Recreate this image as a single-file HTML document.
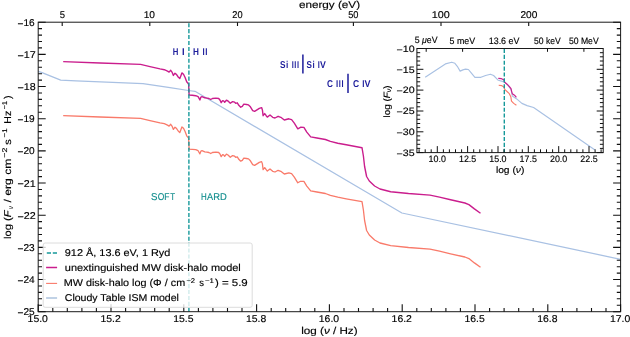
<!DOCTYPE html><html><head><meta charset="utf-8"><style>html,body{margin:0;padding:0;background:#fff;width:630px;height:337px;overflow:hidden;font-family:"Liberation Sans",sans-serif;}svg{display:block;will-change:transform;text-rendering:geometricPrecision;}</style></head><body>
<svg width="630" height="337" viewBox="0 0 630 337" font-family="'Liberation Sans', sans-serif">
<rect width="630" height="337" fill="#fff"/>
<defs><clipPath id="cm"><rect x="38.2" y="22.2" width="582.4" height="289.5"/></clipPath><clipPath id="ci"><rect x="416.9" y="48.5" width="186.3" height="104.1"/></clipPath></defs>
<g clip-path="url(#cm)" fill="none" stroke-linejoin="round" stroke-linecap="butt">
<polyline points="38.2,71.3 41.4,72.3 60.7,80.2 76.0,80.8 143.0,83.7 170.0,87.7 188.4,90.5 195.0,91.3 401.9,213.0 620.6,259.3" stroke="#a9c1e3" stroke-width="1.25"/>
<polyline points="63.2,115.6 100.0,117.0 140.6,118.4 150.0,120.6 160.0,122.9 164.3,123.7 167.5,125.1 169.1,126.1 170.7,124.3 172.0,126.1 173.4,129.4 175.0,127.2 176.6,128.6 178.2,131.0 179.8,132.6 180.8,129.9 181.9,126.9 183.5,128.3 185.1,131.5 186.7,135.8 188.0,137.4 188.6,137.9 189.1,149.1 192.2,149.3 195.7,149.7 198.1,150.7 199.9,153.9 200.9,151.1 202.0,150.7 204.8,151.8 206.9,152.1 208.9,152.5 210.7,153.5 212.4,152.5 215.9,152.1 218.7,152.5 220.1,154.2 221.2,156.7 222.6,154.6 223.6,154.9 224.7,156.3 226.4,154.2 228.0,155.0 230.3,157.3 232.6,155.6 234.6,156.2 235.7,157.3 237.3,156.8 238.8,159.3 240.7,161.2 242.3,160.4 243.8,158.1 246.5,158.5 248.5,158.9 250.4,160.8 252.7,164.7 254.6,165.4 257.0,163.9 259.3,162.4 261.6,161.6 262.4,163.9 263.1,169.7 264.7,167.6 266.2,169.7 267.3,171.1 270.0,169.0 272.7,171.3 275.0,172.0 278.1,170.3 280.8,171.3 284.3,174.0 288.9,172.8 291.6,173.6 294.3,177.1 297.8,182.8 300.5,181.3 303.9,181.4 306.8,186.1 310.7,190.9 316.9,192.0 325.4,193.5 330.4,195.4 337.8,197.2 346.2,198.8 362.0,201.7 363.4,210.0 364.6,220.5 366.6,230.5 369.3,235.0 374.6,240.0 380.0,243.0 390.7,245.7 408.5,247.5 430.0,249.1 439.5,251.1 450.6,253.8 464.9,257.0 468.9,258.6 474.4,262.9 480.5,267.3" stroke="#f97a6a" stroke-width="1.3"/>
<polyline points="63.2,61.6 100.0,63.0 140.6,64.4 150.0,66.6 160.0,68.9 164.3,69.7 167.5,71.1 169.1,72.1 170.7,70.3 172.0,72.1 173.4,75.4 175.0,73.2 176.6,74.6 178.2,77.0 179.8,78.6 180.8,75.9 181.9,72.9 183.5,74.3 185.1,77.5 186.7,81.8 188.0,83.4 188.6,83.9 189.1,95.1 192.2,95.3 195.7,95.7 198.1,96.7 199.9,99.9 200.9,97.1 202.0,96.7 204.8,97.8 206.9,98.1 208.9,98.5 210.7,99.5 212.4,98.5 215.9,98.1 218.7,98.5 220.1,100.2 221.2,102.7 222.6,100.6 223.6,100.9 224.7,102.3 226.4,100.2 228.0,101.0 230.3,103.3 232.6,101.6 234.6,102.2 235.7,103.3 237.3,102.8 238.8,105.3 240.7,107.2 242.3,106.4 243.8,104.1 246.5,104.5 248.5,104.9 250.4,106.8 252.7,110.7 254.6,111.4 257.0,109.9 259.3,108.4 261.6,107.6 262.4,109.9 263.1,115.7 264.7,113.6 266.2,115.7 267.3,117.1 270.0,115.0 272.7,117.3 275.0,118.0 278.1,116.3 280.8,117.3 284.3,120.0 288.9,118.8 291.6,119.6 294.3,123.1 297.8,128.8 300.5,127.3 303.9,127.4 306.8,132.1 310.7,136.9 316.9,138.0 325.4,139.5 330.4,141.4 337.8,143.2 346.2,144.8 362.0,147.7 363.4,156.0 364.6,166.5 366.6,176.5 369.3,181.0 374.6,186.0 380.0,189.0 390.7,191.7 408.5,193.5 430.0,195.1 439.5,197.1 450.6,199.8 464.9,203.0 468.9,204.6 474.4,208.9 480.5,213.3" stroke="#ca1d8d" stroke-width="1.4"/>
<line x1="188.9" y1="311.9" x2="188.9" y2="22.7" stroke="#16999a" stroke-width="1.4" stroke-dasharray="4.1,1.83"/>
</g>
<line x1="302.9" y1="54.4" x2="302.9" y2="73.5" stroke="#1d1d9b" stroke-width="1.5"/>
<line x1="348.0" y1="73.8" x2="348.0" y2="92.9" stroke="#1d1d9b" stroke-width="1.5"/>
<rect x="38.2" y="22.2" width="582.4" height="289.5" fill="none" stroke="#1a1a1a" stroke-width="1.0"/>
<path d="M38.2 311.7V304.2M52.8 311.7V307.9M67.3 311.7V307.9M81.9 311.7V307.9M96.4 311.7V307.9M111.0 311.7V304.2M125.6 311.7V307.9M140.1 311.7V307.9M154.7 311.7V307.9M169.2 311.7V307.9M183.8 311.7V304.2M198.4 311.7V307.9M212.9 311.7V307.9M227.5 311.7V307.9M242.0 311.7V307.9M256.6 311.7V304.2M271.2 311.7V307.9M285.7 311.7V307.9M300.3 311.7V307.9M314.8 311.7V307.9M329.4 311.7V304.2M344.0 311.7V307.9M358.5 311.7V307.9M373.1 311.7V307.9M387.6 311.7V307.9M402.2 311.7V304.2M416.8 311.7V307.9M431.3 311.7V307.9M445.9 311.7V307.9M460.4 311.7V307.9M475.0 311.7V304.2M489.6 311.7V307.9M504.1 311.7V307.9M518.7 311.7V307.9M533.2 311.7V307.9M547.8 311.7V304.2M562.4 311.7V307.9M576.9 311.7V307.9M591.5 311.7V307.9M606.0 311.7V307.9M620.6 311.7V304.2M38.2 22.2H45.7M620.6 22.2H613.1M38.2 28.6H42.0M620.6 28.6H616.8M38.2 35.1H42.0M620.6 35.1H616.8M38.2 41.5H42.0M620.6 41.5H616.8M38.2 47.9H42.0M620.6 47.9H616.8M38.2 54.4H45.7M620.6 54.4H613.1M38.2 60.8H42.0M620.6 60.8H616.8M38.2 67.2H42.0M620.6 67.2H616.8M38.2 73.7H42.0M620.6 73.7H616.8M38.2 80.1H42.0M620.6 80.1H616.8M38.2 86.5H45.7M620.6 86.5H613.1M38.2 93.0H42.0M620.6 93.0H616.8M38.2 99.4H42.0M620.6 99.4H616.8M38.2 105.8H42.0M620.6 105.8H616.8M38.2 112.3H42.0M620.6 112.3H616.8M38.2 118.7H45.7M620.6 118.7H613.1M38.2 125.1H42.0M620.6 125.1H616.8M38.2 131.6H42.0M620.6 131.6H616.8M38.2 138.0H42.0M620.6 138.0H616.8M38.2 144.4H42.0M620.6 144.4H616.8M38.2 150.9H45.7M620.6 150.9H613.1M38.2 157.3H42.0M620.6 157.3H616.8M38.2 163.7H42.0M620.6 163.7H616.8M38.2 170.2H42.0M620.6 170.2H616.8M38.2 176.6H42.0M620.6 176.6H616.8M38.2 183.0H45.7M620.6 183.0H613.1M38.2 189.5H42.0M620.6 189.5H616.8M38.2 195.9H42.0M620.6 195.9H616.8M38.2 202.3H42.0M620.6 202.3H616.8M38.2 208.8H42.0M620.6 208.8H616.8M38.2 215.2H45.7M620.6 215.2H613.1M38.2 221.6H42.0M620.6 221.6H616.8M38.2 228.1H42.0M620.6 228.1H616.8M38.2 234.5H42.0M620.6 234.5H616.8M38.2 240.9H42.0M620.6 240.9H616.8M38.2 247.4H45.7M620.6 247.4H613.1M38.2 253.8H42.0M620.6 253.8H616.8M38.2 260.2H42.0M620.6 260.2H616.8M38.2 266.7H42.0M620.6 266.7H616.8M38.2 273.1H42.0M620.6 273.1H616.8M38.2 279.5H45.7M620.6 279.5H613.1M38.2 286.0H42.0M620.6 286.0H616.8M38.2 292.4H42.0M620.6 292.4H616.8M38.2 298.8H42.0M620.6 298.8H616.8M38.2 305.3H42.0M620.6 305.3H616.8M38.2 311.7H45.7M620.6 311.7H613.1M62.2 22.2V26.0M149.8 22.2V26.0M237.5 22.2V26.0M353.4 22.2V26.0M441.0 22.2V26.0M528.7 22.2V26.0" stroke="#111" stroke-width="1.1" fill="none"/>
<text x="172.80" y="55.00" font-size="9.90" font-weight="bold" fill="#1d1d9b" textLength="5.61" lengthAdjust="spacingAndGlyphs">H</text>
<text x="182.00" y="55.00" font-size="9.90" font-weight="bold" fill="#1d1d9b" textLength="2.61" lengthAdjust="spacingAndGlyphs">I</text>
<text x="192.90" y="55.00" font-size="9.90" font-weight="bold" fill="#1d1d9b" textLength="5.92" lengthAdjust="spacingAndGlyphs">H</text>
<text x="202.60" y="55.00" font-size="9.90" font-weight="bold" fill="#1d1d9b" textLength="2.20" lengthAdjust="spacingAndGlyphs">I</text>
<text x="205.30" y="55.00" font-size="9.90" font-weight="bold" fill="#1d1d9b" textLength="2.20" lengthAdjust="spacingAndGlyphs">I</text>
<text x="280.10" y="67.70" font-size="9.90" font-weight="bold" fill="#1d1d9b" textLength="5.49" lengthAdjust="spacingAndGlyphs">S</text>
<text x="286.10" y="67.70" font-size="9.90" font-weight="bold" fill="#1d1d9b" textLength="2.34" lengthAdjust="spacingAndGlyphs">i</text>
<text x="291.70" y="67.70" font-size="9.90" font-weight="bold" fill="#1d1d9b" textLength="2.06" lengthAdjust="spacingAndGlyphs">I</text>
<text x="294.30" y="67.70" font-size="9.90" font-weight="bold" fill="#1d1d9b" textLength="2.06" lengthAdjust="spacingAndGlyphs">I</text>
<text x="296.90" y="67.70" font-size="9.90" font-weight="bold" fill="#1d1d9b" textLength="2.06" lengthAdjust="spacingAndGlyphs">I</text>
<text x="306.40" y="67.70" font-size="9.90" font-weight="bold" fill="#1d1d9b" textLength="5.38" lengthAdjust="spacingAndGlyphs">S</text>
<text x="312.40" y="67.70" font-size="9.90" font-weight="bold" fill="#1d1d9b" textLength="2.20" lengthAdjust="spacingAndGlyphs">i</text>
<text x="317.80" y="67.70" font-size="9.90" font-weight="bold" fill="#1d1d9b" textLength="2.06" lengthAdjust="spacingAndGlyphs">I</text>
<text x="319.90" y="67.70" font-size="9.90" font-weight="bold" fill="#1d1d9b" textLength="5.84" lengthAdjust="spacingAndGlyphs">V</text>
<text x="326.90" y="86.90" font-size="9.90" font-weight="bold" fill="#1d1d9b" textLength="5.92" lengthAdjust="spacingAndGlyphs">C</text>
<text x="336.00" y="86.90" font-size="9.90" font-weight="bold" fill="#1d1d9b" textLength="2.20" lengthAdjust="spacingAndGlyphs">I</text>
<text x="338.70" y="86.90" font-size="9.90" font-weight="bold" fill="#1d1d9b" textLength="2.06" lengthAdjust="spacingAndGlyphs">I</text>
<text x="341.50" y="86.90" font-size="9.90" font-weight="bold" fill="#1d1d9b" textLength="2.06" lengthAdjust="spacingAndGlyphs">I</text>
<text x="353.00" y="86.90" font-size="9.90" font-weight="bold" fill="#1d1d9b" textLength="6.12" lengthAdjust="spacingAndGlyphs">C</text>
<text x="362.30" y="86.90" font-size="9.90" font-weight="bold" fill="#1d1d9b" textLength="2.20" lengthAdjust="spacingAndGlyphs">I</text>
<text x="364.40" y="86.90" font-size="9.90" font-weight="bold" fill="#1d1d9b" textLength="6.03" lengthAdjust="spacingAndGlyphs">V</text>
<text x="151.02" y="199.60" font-size="9.90" font-weight="normal" fill="#138e8e" stroke="#138e8e" stroke-width="0.15" textLength="6.46" lengthAdjust="spacingAndGlyphs">S</text>
<text x="157.80" y="199.60" font-size="9.90" font-weight="normal" fill="#138e8e" stroke="#138e8e" stroke-width="0.15" textLength="6.59" lengthAdjust="spacingAndGlyphs">O</text>
<text x="164.24" y="199.60" font-size="9.90" font-weight="normal" fill="#138e8e" stroke="#138e8e" stroke-width="0.15" textLength="5.20" lengthAdjust="spacingAndGlyphs">F</text>
<text x="170.20" y="199.60" font-size="9.90" font-weight="normal" fill="#138e8e" stroke="#138e8e" stroke-width="0.15" textLength="4.84" lengthAdjust="spacingAndGlyphs">T</text>
<text x="201.10" y="199.60" font-size="9.90" font-weight="normal" fill="#138e8e" stroke="#138e8e" stroke-width="0.15" textLength="5.71" lengthAdjust="spacingAndGlyphs">H</text>
<text x="207.10" y="199.60" font-size="9.90" font-weight="normal" fill="#138e8e" stroke="#138e8e" stroke-width="0.15" textLength="6.12" lengthAdjust="spacingAndGlyphs">A</text>
<text x="213.35" y="199.60" font-size="9.90" font-weight="normal" fill="#138e8e" stroke="#138e8e" stroke-width="0.15" textLength="6.78" lengthAdjust="spacingAndGlyphs">R</text>
<text x="220.05" y="199.60" font-size="9.90" font-weight="normal" fill="#138e8e" stroke="#138e8e" stroke-width="0.15" textLength="6.78" lengthAdjust="spacingAndGlyphs">D</text>
<text x="27.64" y="322.00" font-size="9.90" font-weight="normal" fill="#000" stroke="#000" stroke-width="0.15" textLength="20.30" lengthAdjust="spacingAndGlyphs">15.0</text>
<text x="100.44" y="322.00" font-size="9.90" font-weight="normal" fill="#000" stroke="#000" stroke-width="0.15" textLength="20.30" lengthAdjust="spacingAndGlyphs">15.2</text>
<text x="173.24" y="322.00" font-size="9.90" font-weight="normal" fill="#000" stroke="#000" stroke-width="0.15" textLength="20.30" lengthAdjust="spacingAndGlyphs">15.5</text>
<text x="246.04" y="322.00" font-size="9.90" font-weight="normal" fill="#000" stroke="#000" stroke-width="0.15" textLength="20.30" lengthAdjust="spacingAndGlyphs">15.8</text>
<text x="318.84" y="322.00" font-size="9.90" font-weight="normal" fill="#000" stroke="#000" stroke-width="0.15" textLength="20.30" lengthAdjust="spacingAndGlyphs">16.0</text>
<text x="391.64" y="322.00" font-size="9.90" font-weight="normal" fill="#000" stroke="#000" stroke-width="0.15" textLength="20.30" lengthAdjust="spacingAndGlyphs">16.2</text>
<text x="464.44" y="322.00" font-size="9.90" font-weight="normal" fill="#000" stroke="#000" stroke-width="0.15" textLength="20.30" lengthAdjust="spacingAndGlyphs">16.5</text>
<text x="537.24" y="322.00" font-size="9.90" font-weight="normal" fill="#000" stroke="#000" stroke-width="0.15" textLength="20.30" lengthAdjust="spacingAndGlyphs">16.8</text>
<text x="610.04" y="322.00" font-size="9.90" font-weight="normal" fill="#000" stroke="#000" stroke-width="0.15" textLength="20.30" lengthAdjust="spacingAndGlyphs">17.0</text>
<text x="17.50" y="25.75" font-size="9.90" font-weight="normal" fill="#000" stroke="#000" stroke-width="0.15" textLength="17.16" lengthAdjust="spacingAndGlyphs"><tspan dy="0.9">−</tspan><tspan dy="-0.9">16</tspan></text>
<text x="17.50" y="57.92" font-size="9.90" font-weight="normal" fill="#000" stroke="#000" stroke-width="0.15" textLength="18.23" lengthAdjust="spacingAndGlyphs"><tspan dy="0.9">−</tspan><tspan dy="-0.9">17</tspan></text>
<text x="17.50" y="90.08" font-size="9.90" font-weight="normal" fill="#000" stroke="#000" stroke-width="0.15" textLength="18.23" lengthAdjust="spacingAndGlyphs"><tspan dy="0.9">−</tspan><tspan dy="-0.9">18</tspan></text>
<text x="17.50" y="122.25" font-size="9.90" font-weight="normal" fill="#000" stroke="#000" stroke-width="0.15" textLength="17.16" lengthAdjust="spacingAndGlyphs"><tspan dy="0.9">−</tspan><tspan dy="-0.9">19</tspan></text>
<text x="17.50" y="154.42" font-size="9.90" font-weight="normal" fill="#000" stroke="#000" stroke-width="0.15" textLength="17.16" lengthAdjust="spacingAndGlyphs"><tspan dy="0.9">−</tspan><tspan dy="-0.9">20</tspan></text>
<text x="17.50" y="186.58" font-size="9.90" font-weight="normal" fill="#000" stroke="#000" stroke-width="0.15" textLength="18.23" lengthAdjust="spacingAndGlyphs"><tspan dy="0.9">−</tspan><tspan dy="-0.9">21</tspan></text>
<text x="17.50" y="218.75" font-size="9.90" font-weight="normal" fill="#000" stroke="#000" stroke-width="0.15" textLength="18.23" lengthAdjust="spacingAndGlyphs"><tspan dy="0.9">−</tspan><tspan dy="-0.9">22</tspan></text>
<text x="17.50" y="250.92" font-size="9.90" font-weight="normal" fill="#000" stroke="#000" stroke-width="0.15" textLength="17.16" lengthAdjust="spacingAndGlyphs"><tspan dy="0.9">−</tspan><tspan dy="-0.9">23</tspan></text>
<text x="17.50" y="283.08" font-size="9.90" font-weight="normal" fill="#000" stroke="#000" stroke-width="0.15" textLength="17.16" lengthAdjust="spacingAndGlyphs"><tspan dy="0.9">−</tspan><tspan dy="-0.9">24</tspan></text>
<text x="17.50" y="315.25" font-size="9.90" font-weight="normal" fill="#000" stroke="#000" stroke-width="0.15" textLength="17.16" lengthAdjust="spacingAndGlyphs"><tspan dy="0.9">−</tspan><tspan dy="-0.9">25</tspan></text>
<text x="59.77" y="17.80" font-size="9.90" font-weight="normal" fill="#000" stroke="#000" stroke-width="0.15" textLength="5.28" lengthAdjust="spacingAndGlyphs">5</text>
<text x="143.65" y="17.80" font-size="9.90" font-weight="normal" fill="#000" stroke="#000" stroke-width="0.15" textLength="11.31" lengthAdjust="spacingAndGlyphs">10</text>
<text x="232.34" y="17.80" font-size="9.90" font-weight="normal" fill="#000" stroke="#000" stroke-width="0.15" textLength="10.29" lengthAdjust="spacingAndGlyphs">20</text>
<text x="348.22" y="17.80" font-size="9.90" font-weight="normal" fill="#000" stroke="#000" stroke-width="0.15" textLength="10.29" lengthAdjust="spacingAndGlyphs">50</text>
<text x="431.74" y="17.80" font-size="9.90" font-weight="normal" fill="#000" stroke="#000" stroke-width="0.15" textLength="18.02" lengthAdjust="spacingAndGlyphs">100</text>
<text x="520.49" y="17.80" font-size="9.90" font-weight="normal" fill="#000" stroke="#000" stroke-width="0.15" textLength="16.90" lengthAdjust="spacingAndGlyphs">200</text>
<text x="298.90" y="7.80" font-size="9.90" font-weight="normal" fill="#000" stroke="#000" stroke-width="0.15" textLength="61.20" lengthAdjust="spacingAndGlyphs">energy (eV)</text>
<text x="301.20" y="334.10" font-size="9.90" font-weight="normal" fill="#000" stroke="#000" stroke-width="0.15" textLength="56.39" lengthAdjust="spacingAndGlyphs">log (<tspan font-style="italic">ν</tspan> / Hz)</text>
<text transform="translate(11.10,238.90) rotate(-90)" x="0.00" y="0" font-size="9.90" font-weight="normal" fill="#000" stroke="#000" stroke-width="0.15" textLength="28.47" lengthAdjust="spacingAndGlyphs">log (<tspan font-style="italic">F</tspan></text>
<text transform="translate(12.60,208.90) rotate(-90)" x="0.00" y="0" font-size="6.90" font-weight="normal" fill="#000" stroke="#000" stroke-width="0.15" textLength="2.59" lengthAdjust="spacingAndGlyphs"><tspan font-style="italic">ν</tspan></text>
<text transform="translate(11.10,202.40) rotate(-90)" x="0.00" y="0" font-size="9.90" font-weight="normal" fill="#000" stroke="#000" stroke-width="0.15" textLength="43.72" lengthAdjust="spacingAndGlyphs">/ erg cm</text>
<text transform="translate(7.00,157.70) rotate(-90)" x="0.00" y="0" font-size="6.90" font-weight="normal" fill="#000" stroke="#000" stroke-width="0.15" textLength="10.02" lengthAdjust="spacingAndGlyphs">−2</text>
<text transform="translate(11.10,144.70) rotate(-90)" x="0.00" y="0" font-size="9.90" font-weight="normal" fill="#000" stroke="#000" stroke-width="0.15" textLength="5.53" lengthAdjust="spacingAndGlyphs">s</text>
<text transform="translate(7.00,137.40) rotate(-90)" x="0.00" y="0" font-size="6.90" font-weight="normal" fill="#000" stroke="#000" stroke-width="0.15" textLength="8.84" lengthAdjust="spacingAndGlyphs">−1</text>
<text transform="translate(11.10,122.70) rotate(-90)" x="-1.07" y="0" font-size="9.90" font-weight="normal" fill="#000" stroke="#000" stroke-width="0.15" textLength="12.96" lengthAdjust="spacingAndGlyphs">Hz</text>
<text transform="translate(7.00,109.20) rotate(-90)" x="0.00" y="0" font-size="6.90" font-weight="normal" fill="#000" stroke="#000" stroke-width="0.15" textLength="8.25" lengthAdjust="spacingAndGlyphs">−1</text>
<text transform="translate(11.10,99.10) rotate(-90)" x="0.00" y="0" font-size="9.90" font-weight="normal" fill="#000" stroke="#000" stroke-width="0.15" textLength="3.74" lengthAdjust="spacingAndGlyphs">)</text>
<rect x="43.2" y="243.0" width="209" height="64.3" rx="2" ry="2" fill="#fff" fill-opacity="0.8" stroke="#d8d8d8" stroke-width="0.9"/>
<line x1="46.8" y1="253.0" x2="57.1" y2="253.0" stroke="#16999a" stroke-width="1.4" stroke-dasharray="4.2,1.8"/>
<line x1="46.1" y1="267.5" x2="57.1" y2="267.5" stroke="#ca1d8d" stroke-width="1.5"/>
<line x1="46.1" y1="283.4" x2="57.1" y2="283.4" stroke="#f97a6a" stroke-width="1.1"/>
<line x1="46.1" y1="298.0" x2="57.1" y2="298.0" stroke="#b6cae2" stroke-width="1.7"/>
<text x="64.80" y="255.90" font-size="9.90" font-weight="normal" fill="#000" stroke="#000" stroke-width="0.15" textLength="105.59" lengthAdjust="spacingAndGlyphs">912 Å, 13.6 eV, 1 Ryd</text>
<text x="64.80" y="270.60" font-size="9.90" font-weight="normal" fill="#000" stroke="#000" stroke-width="0.15" textLength="176.01" lengthAdjust="spacingAndGlyphs">unextinguished MW disk-halo model</text>
<text x="63.71" y="286.30" font-size="9.90" font-weight="normal" fill="#000" stroke="#000" stroke-width="0.15" textLength="121.44" lengthAdjust="spacingAndGlyphs">MW disk-halo log (Φ / cm</text>
<text x="186.40" y="283.10" font-size="6.90" font-weight="normal" fill="#000" stroke="#000" stroke-width="0.15" textLength="8.74" lengthAdjust="spacingAndGlyphs">−2</text>
<text x="199.30" y="286.30" font-size="9.90" font-weight="normal" fill="#000" stroke="#000" stroke-width="0.15" textLength="4.74" lengthAdjust="spacingAndGlyphs">s</text>
<text x="205.00" y="283.10" font-size="6.90" font-weight="normal" fill="#000" stroke="#000" stroke-width="0.15" textLength="8.84" lengthAdjust="spacingAndGlyphs">−1</text>
<text x="214.90" y="286.30" font-size="9.90" font-weight="normal" fill="#000" stroke="#000" stroke-width="0.15" textLength="32.83" lengthAdjust="spacingAndGlyphs">) = 5.9</text>
<text x="64.80" y="300.90" font-size="9.90" font-weight="normal" fill="#000" stroke="#000" stroke-width="0.15" textLength="114.15" lengthAdjust="spacingAndGlyphs">Cloudy Table ISM model</text>
<rect x="416.9" y="48.5" width="186.3" height="104.1" fill="#fff"/>
<g clip-path="url(#ci)" fill="none" stroke-linejoin="round">
<polyline points="425.2,77.3 445.4,63.9 451.7,62.2 454.9,63.3 457.3,66.3 460.1,71.1 462.9,69.9 465.6,69.1 468.4,69.5 471.0,72.7 474.9,77.3 480.9,77.3 485.6,75.5 490.4,74.2 493.6,75.5 498.3,80.3 501.5,81.1 504.7,82.1 507.9,85.4 511.0,89.4 512.3,96.0 516.7,98.9 521.9,103.4 527.1,105.6 533.6,107.5 595.0,150.0" stroke="#a9c1e3" stroke-width="1.15"/>
<polyline points="498.7,85.3 501.5,85.6 503.9,87.0 504.7,89.4 507.0,91.5 509.3,93.7 510.8,96.7 511.5,101.2 513.7,103.4 516.4,105.3" stroke="#f97a6a" stroke-width="1.15"/>
<polyline points="498.3,78.3 501.5,78.7 503.9,79.9 504.7,82.3 507.1,84.2 509.4,86.6 511.0,88.6 511.5,90.8 512.3,93.7 514.5,95.2 516.4,97.4" stroke="#ca1d8d" stroke-width="1.2"/>
<line x1="504.3" y1="152.8" x2="504.3" y2="49.0" stroke="#16999a" stroke-width="1.4" stroke-dasharray="4.1,1.765"/>
</g>
<rect x="416.9" y="48.5" width="186.3" height="104.1" fill="none" stroke="#1a1a1a" stroke-width="1.0"/>
<path d="M419.1 152.6V149.3M425.2 152.6V149.3M431.2 152.6V149.3M437.3 152.6V146.1M443.4 152.6V149.3M449.4 152.6V149.3M455.5 152.6V149.3M461.6 152.6V149.3M467.6 152.6V146.1M473.7 152.6V149.3M479.8 152.6V149.3M485.8 152.6V149.3M491.9 152.6V149.3M498.0 152.6V146.1M504.0 152.6V149.3M510.1 152.6V149.3M516.2 152.6V149.3M522.3 152.6V149.3M528.3 152.6V146.1M534.4 152.6V149.3M540.5 152.6V149.3M546.5 152.6V149.3M552.6 152.6V149.3M558.7 152.6V146.1M564.7 152.6V149.3M570.8 152.6V149.3M576.9 152.6V149.3M582.9 152.6V149.3M589.0 152.6V146.1M595.1 152.6V149.3M601.1 152.6V149.3M416.9 48.5H423.4M603.2 48.5H596.7M416.9 52.7H420.2M603.2 52.7H599.9M416.9 56.8H420.2M603.2 56.8H599.9M416.9 61.0H420.2M603.2 61.0H599.9M416.9 65.2H420.2M603.2 65.2H599.9M416.9 69.3H423.4M603.2 69.3H596.7M416.9 73.5H420.2M603.2 73.5H599.9M416.9 77.6H420.2M603.2 77.6H599.9M416.9 81.8H420.2M603.2 81.8H599.9M416.9 86.0H420.2M603.2 86.0H599.9M416.9 90.1H423.4M603.2 90.1H596.7M416.9 94.3H420.2M603.2 94.3H599.9M416.9 98.5H420.2M603.2 98.5H599.9M416.9 102.6H420.2M603.2 102.6H599.9M416.9 106.8H420.2M603.2 106.8H599.9M416.9 111.0H423.4M603.2 111.0H596.7M416.9 115.1H420.2M603.2 115.1H599.9M416.9 119.3H420.2M603.2 119.3H599.9M416.9 123.5H420.2M603.2 123.5H599.9M416.9 127.6H420.2M603.2 127.6H599.9M416.9 131.8H423.4M603.2 131.8H596.7M416.9 135.9H420.2M603.2 135.9H599.9M416.9 140.1H420.2M603.2 140.1H599.9M416.9 144.3H420.2M603.2 144.3H599.9M416.9 148.4H420.2M603.2 148.4H599.9M416.9 152.6H423.4M603.2 152.6H596.7M426.2 48.5V51.8M462.6 48.5V51.8M547.5 48.5V51.8M583.9 48.5V51.8" stroke="#111" stroke-width="1.0" fill="none"/>
<text x="428.60" y="162.00" font-size="9.20" font-weight="normal" fill="#000" stroke="#000" stroke-width="0.15" textLength="17.29" lengthAdjust="spacingAndGlyphs">10.0</text>
<text x="458.94" y="162.00" font-size="9.20" font-weight="normal" fill="#000" stroke="#000" stroke-width="0.15" textLength="17.29" lengthAdjust="spacingAndGlyphs">12.5</text>
<text x="489.28" y="162.00" font-size="9.20" font-weight="normal" fill="#000" stroke="#000" stroke-width="0.15" textLength="17.29" lengthAdjust="spacingAndGlyphs">15.0</text>
<text x="519.62" y="162.00" font-size="9.20" font-weight="normal" fill="#000" stroke="#000" stroke-width="0.15" textLength="17.29" lengthAdjust="spacingAndGlyphs">17.5</text>
<text x="549.96" y="162.00" font-size="9.20" font-weight="normal" fill="#000" stroke="#000" stroke-width="0.15" textLength="17.29" lengthAdjust="spacingAndGlyphs">20.0</text>
<text x="580.30" y="162.00" font-size="9.20" font-weight="normal" fill="#000" stroke="#000" stroke-width="0.15" textLength="17.29" lengthAdjust="spacingAndGlyphs">22.5</text>
<text x="396.64" y="51.70" font-size="9.20" font-weight="normal" fill="#000" stroke="#000" stroke-width="0.15" textLength="18.06" lengthAdjust="spacingAndGlyphs"><tspan dy="0.8">−</tspan><tspan dy="-0.8">10</tspan></text>
<text x="396.64" y="72.52" font-size="9.20" font-weight="normal" fill="#000" stroke="#000" stroke-width="0.15" textLength="18.06" lengthAdjust="spacingAndGlyphs"><tspan dy="0.8">−</tspan><tspan dy="-0.8">15</tspan></text>
<text x="396.64" y="93.34" font-size="9.20" font-weight="normal" fill="#000" stroke="#000" stroke-width="0.15" textLength="18.06" lengthAdjust="spacingAndGlyphs"><tspan dy="0.8">−</tspan><tspan dy="-0.8">20</tspan></text>
<text x="396.64" y="114.16" font-size="9.20" font-weight="normal" fill="#000" stroke="#000" stroke-width="0.15" textLength="18.06" lengthAdjust="spacingAndGlyphs"><tspan dy="0.8">−</tspan><tspan dy="-0.8">25</tspan></text>
<text x="396.64" y="134.98" font-size="9.20" font-weight="normal" fill="#000" stroke="#000" stroke-width="0.15" textLength="18.06" lengthAdjust="spacingAndGlyphs"><tspan dy="0.8">−</tspan><tspan dy="-0.8">30</tspan></text>
<text x="396.64" y="155.80" font-size="9.20" font-weight="normal" fill="#000" stroke="#000" stroke-width="0.15" textLength="18.06" lengthAdjust="spacingAndGlyphs"><tspan dy="0.8">−</tspan><tspan dy="-0.8">35</tspan></text>
<text x="414.71" y="42.90" font-size="9.20" font-weight="normal" fill="#000" stroke="#000" stroke-width="0.15" textLength="22.87" lengthAdjust="spacingAndGlyphs">5 <tspan font-style="italic">μ</tspan>eV</text>
<text x="449.57" y="44.20" font-size="9.20" font-weight="normal" fill="#000" stroke="#000" stroke-width="0.15" textLength="25.58" lengthAdjust="spacingAndGlyphs">5 meV</text>
<text x="488.75" y="44.30" font-size="9.20" font-weight="normal" fill="#000" stroke="#000" stroke-width="0.15" textLength="30.68" lengthAdjust="spacingAndGlyphs">13.6 eV</text>
<text x="533.97" y="44.30" font-size="9.20" font-weight="normal" fill="#000" stroke="#000" stroke-width="0.15" textLength="26.73" lengthAdjust="spacingAndGlyphs">50 keV</text>
<text x="568.88" y="44.30" font-size="9.20" font-weight="normal" fill="#000" stroke="#000" stroke-width="0.15" textLength="29.79" lengthAdjust="spacingAndGlyphs">50 MeV</text>
<text x="495.90" y="172.90" font-size="9.20" font-weight="normal" fill="#000" stroke="#000" stroke-width="0.15" textLength="28.49" lengthAdjust="spacingAndGlyphs">log (<tspan font-style="italic">ν</tspan>)</text>
<text transform="translate(389.60,117.40) rotate(-90)" x="0.00" y="0" font-size="9.20" font-weight="normal" fill="#000" stroke="#000" stroke-width="0.15" textLength="31.90" lengthAdjust="spacingAndGlyphs">log (<tspan font-style="italic">F</tspan><tspan font-style="italic" font-size="6.5" dy="1.7">ν</tspan><tspan dy="-1.7">)</tspan></text>
</svg></body></html>
